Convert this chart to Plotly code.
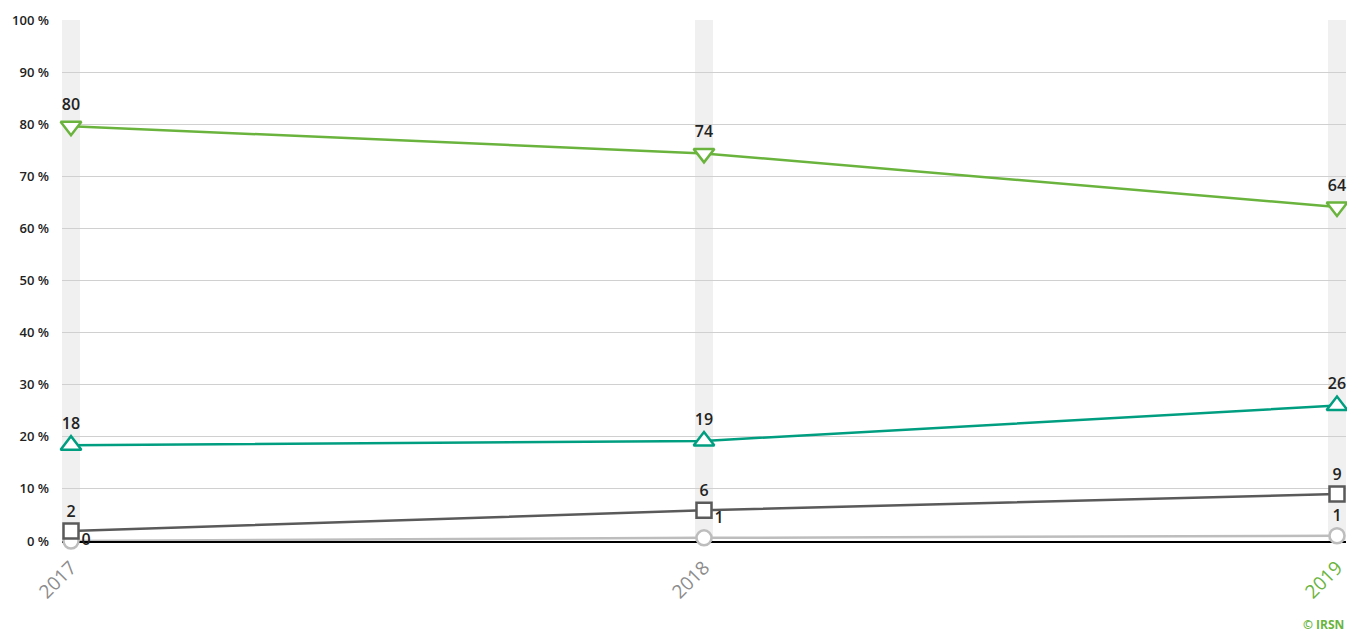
import plotly.graph_objects as go

years = [2017, 2018, 2019]
year_labels = ["2017", "2018", "2019"]
green_vals = [79.6, 74.4, 64.1]
teal_vals = [18.4, 19.2, 26.0]
dark_vals = [1.9, 5.9, 9.0]
light_vals = [0.0, 0.6, 1.0]
y_ticks = [0, 10, 20, 30, 40, 50, 60, 70, 80, 90, 100]

GREEN = "#6ab43e"
TEAL = "#009e80"
DARK = "#5a5a5a"
LIGHT = "#bdbdbd"

half = 9 / 633.0

fig = go.Figure()

def add(vals, color, symbol, size, positions):
    fig.add_trace(go.Scatter(
        x=years, y=vals, mode="lines+markers+text",
        line=dict(color=color, width=2.5),
        marker=dict(symbol=symbol, size=size, color="white", line=dict(color=color, width=2.5)),
        text=[str(round(v)) for v in vals],
        textposition=positions,
        textfont=dict(family="Open Sans", size=16, color="#222", weight=600),
        cliponaxis=False, showlegend=False, hoverinfo="skip"))

add(light_vals, LIGHT, "circle", 15, ["middle right", "top right", "top center"])
add(dark_vals, DARK, "square", 15, ["top center"] * 3)
add(teal_vals, TEAL, "triangle-up", 18, ["top center"] * 3)
add(green_vals, GREEN, "triangle-down", 18, ["top center"] * 3)

shapes = []
for yr in years:
    shapes.append(dict(type="rect", xref="x", yref="y", x0=yr - half, x1=yr + half,
                       y0=0, y1=100, fillcolor="#f0f0f0", line=dict(width=0), layer="below"))

ticktext = ['<span style="color:#8c8c8c">%s</span>' % year_labels[0],
            '<span style="color:#8c8c8c">%s</span>' % year_labels[1],
            '<span style="color:%s">%s</span>' % (GREEN, year_labels[2])]

fig.update_layout(
    width=1347, height=634,
    margin=dict(l=62, r=1, t=20, b=93),
    paper_bgcolor="white", plot_bgcolor="white",
    shapes=shapes,
    xaxis=dict(range=[2017 - half, 2019 + half], tickvals=years, ticktext=ticktext,
               tickangle=-45, tickfont=dict(family="Open Sans", size=19, color="#8c8c8c"),
               showgrid=False, zeroline=False, showline=True, linecolor="black", linewidth=2,
               ticks="outside", ticklen=6, tickcolor="rgba(0,0,0,0)",
               ticklabeloverflow="allow", automargin=False, layer="below traces"),
    yaxis=dict(range=[0, 100], tickvals=y_ticks, ticktext=[f"{v} %" for v in y_ticks],
               tickfont=dict(family="Open Sans", size=13, color="#222", weight=600),
               showgrid=True, gridcolor="#d0d0d0", gridwidth=1, zeroline=False,
               ticklabelstandoff=12, automargin=False, layer="below traces"),
    annotations=[dict(text="© IRSN", xref="paper", yref="paper", x=1, y=0, yshift=-94,
                      xanchor="right", yanchor="bottom", showarrow=False,
                      font=dict(family="Open Sans", size=12, color=GREEN, weight=700))],
)

fig.write_html("out.html", config={"displayModeBar": False})
with open("out.html", "r", encoding="utf-8") as f:
    html = f.read()
html = html.replace("<head>", "<head><style>html,body{margin:0;padding:0;overflow:hidden;}</style>", 1)
with open("out.html", "w", encoding="utf-8") as f:
    f.write(html)
